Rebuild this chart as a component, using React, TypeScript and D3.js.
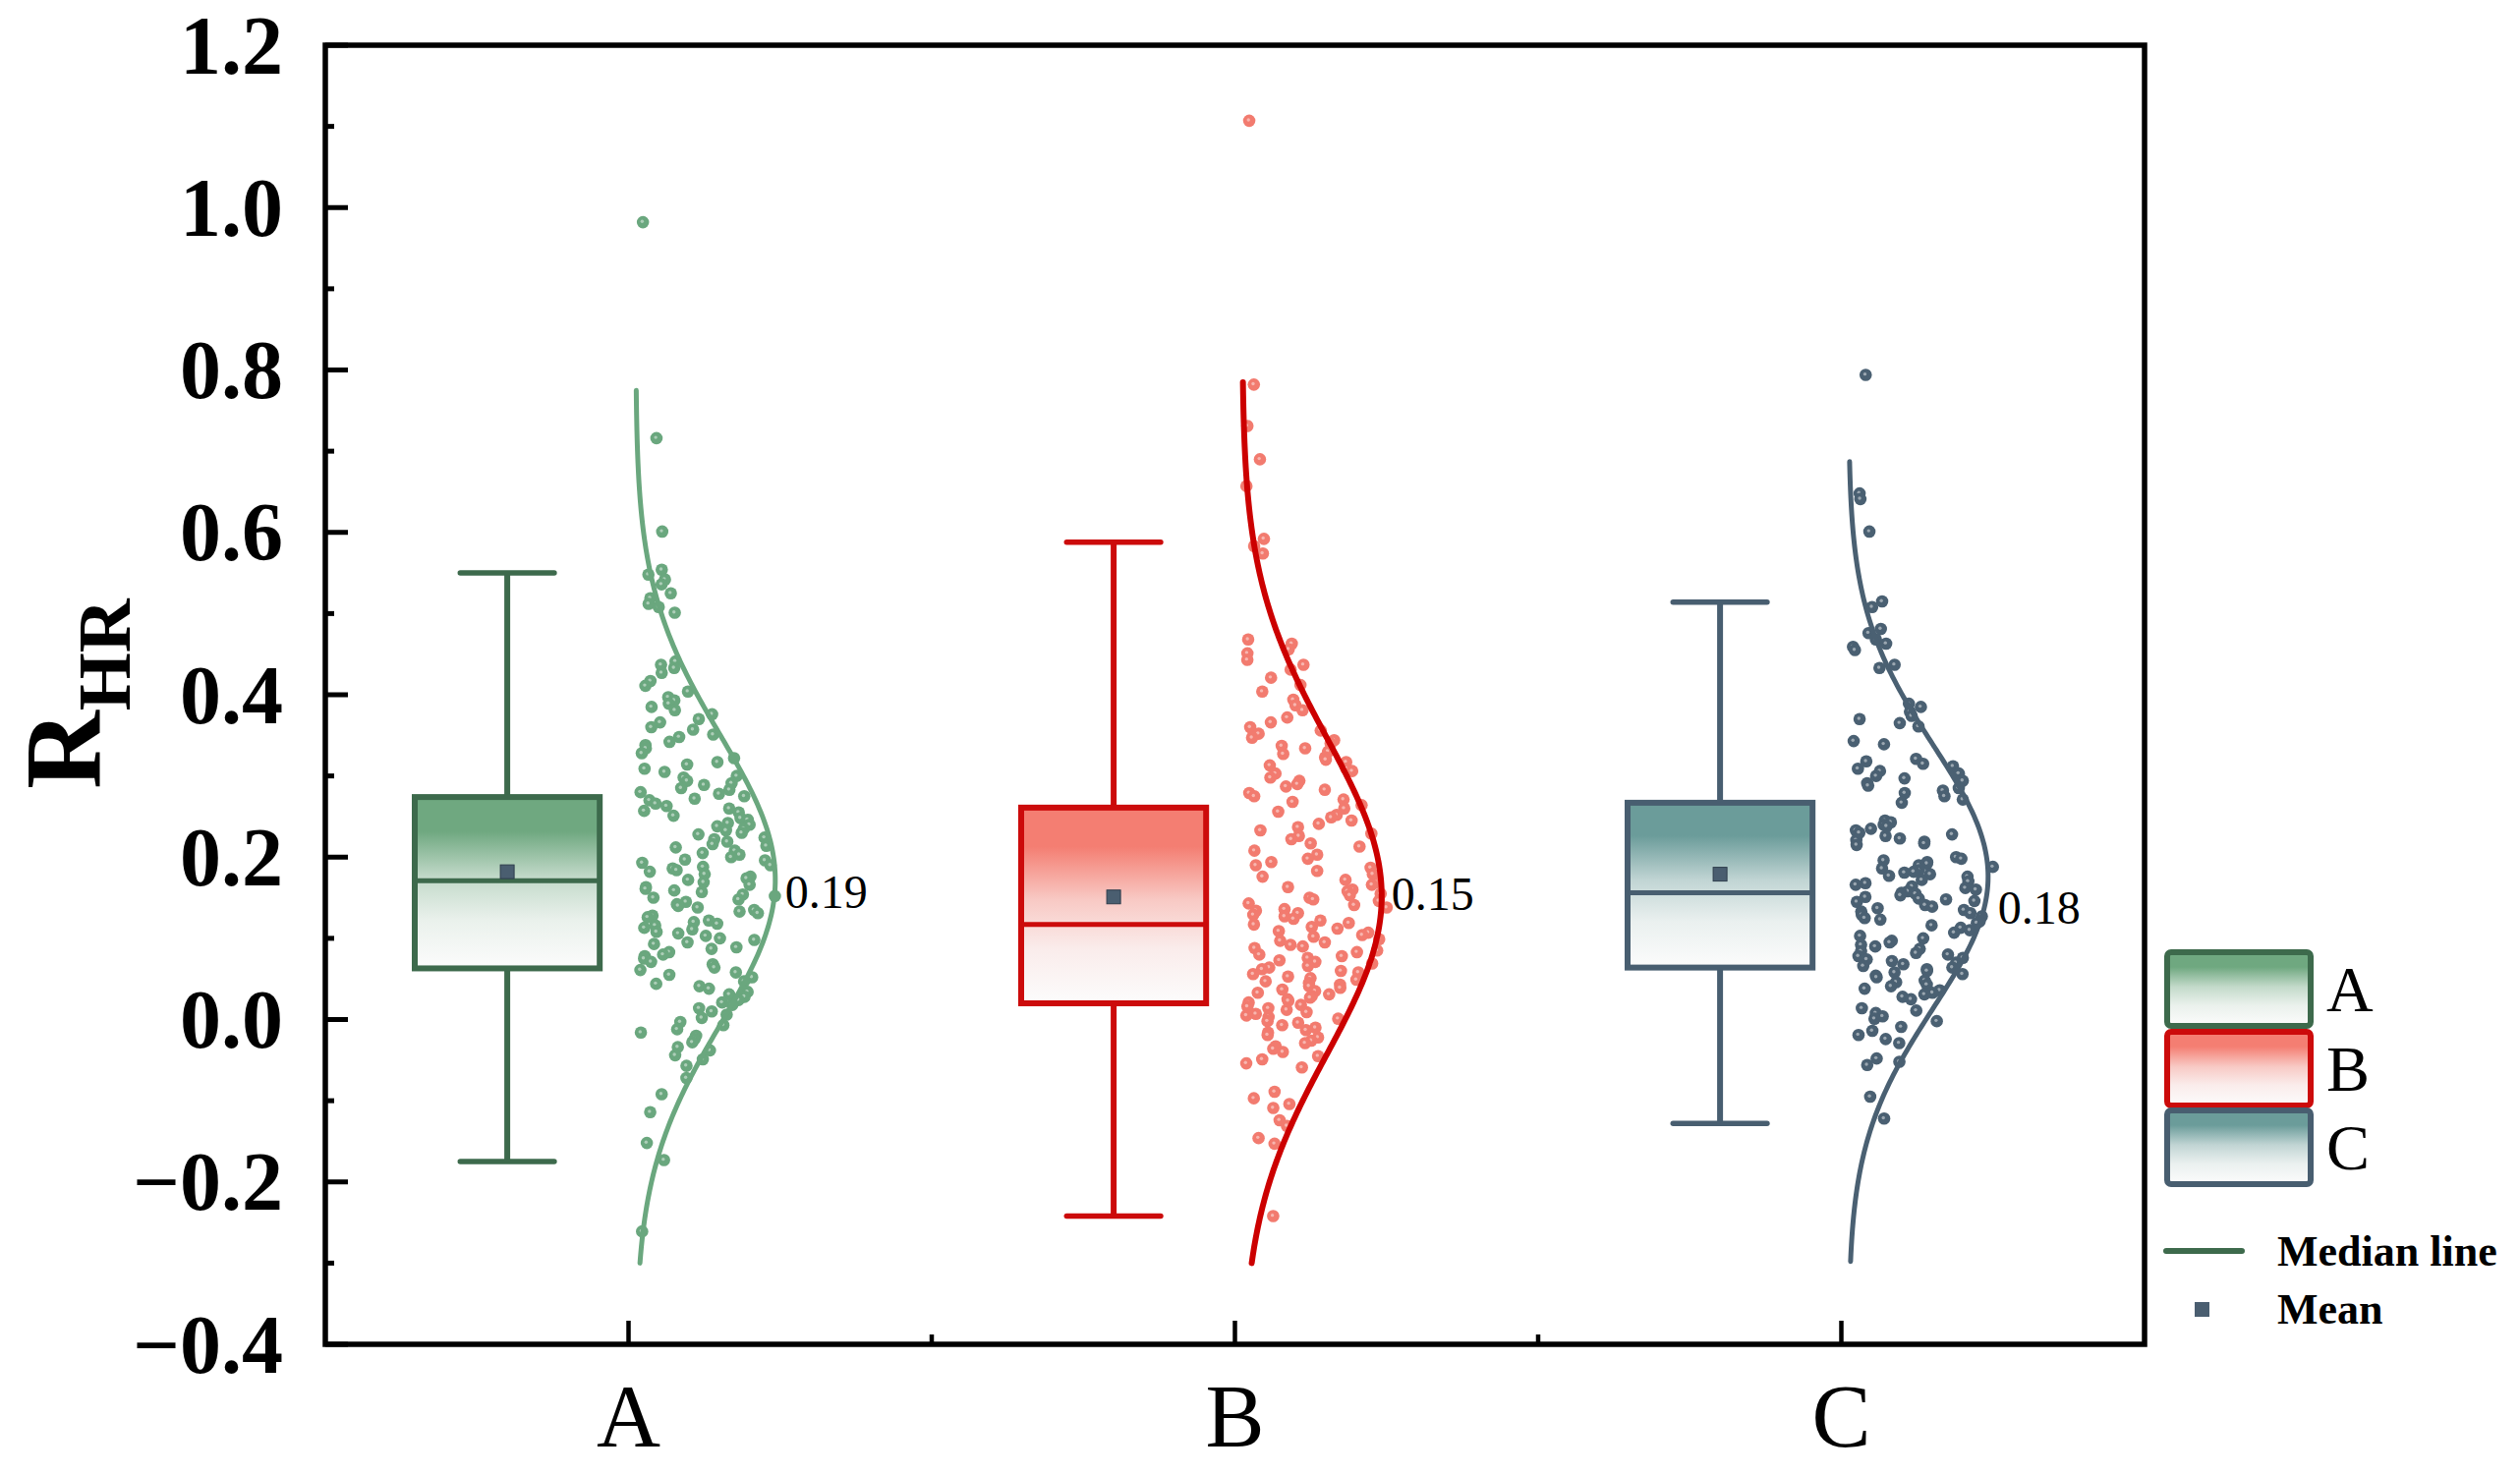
import React from "react";
import * as d3 from "d3";

// ---- data ----
const categories = ["A", "B", "C"];

const boxQ1 = [0.063, 0.02, 0.064];
const boxMedian = [0.171, 0.117, 0.156];
const boxQ3 = [0.274, 0.261, 0.267];
const whiskerLow = [-0.175, -0.242, -0.128];
const whiskerHigh = [0.55, 0.588, 0.514];
const means = [0.182, 0.151, 0.179];

// normal curve drawn beside each box
const curveMu = [0.172, 0.152, 0.176];
const curveSigma = [0.178, 0.195, 0.162];
const curveFrom = [-0.3, -0.3, -0.3];
const curveTo = [0.775, 0.785, 0.687];
const curveLabels = ["0.19", "0.15", "0.18"];
const curveLabelAt = [0.157, 0.154, 0.137];

const yTicks = [-0.4, -0.2, 0.0, 0.2, 0.4, 0.6, 0.8, 1.0, 1.2];
const yMinorTicks = [-0.3, -0.1, 0.1, 0.3, 0.5, 0.7, 0.9, 1.1];

const pointsA = [
  0.982, 0.716, 0.601, 0.554, 0.548, 0.542, 0.536, 0.525, 0.519, 0.512, 0.508, 0.501,
  0.441, 0.437, 0.433, 0.427, 0.417, 0.411, 0.404, 0.397, 0.393, 0.389, 0.385, 0.381,
  0.376, 0.37, 0.366, 0.36, 0.357, 0.351, 0.348, 0.342, 0.338, 0.334, 0.328, 0.322,
  0.317, 0.314, 0.309, 0.305, 0.3, 0.298, 0.294, 0.291, 0.289, 0.285, 0.283, 0.28,
  0.278, 0.275, 0.272, 0.27, 0.266, 0.263, 0.26, 0.257, 0.255, 0.251, 0.248, 0.246,
  0.242, 0.24, 0.238, 0.235, 0.233, 0.23, 0.228, 0.224, 0.222, 0.219, 0.216, 0.214,
  0.212, 0.208, 0.205, 0.203, 0.2, 0.197, 0.196, 0.193, 0.19, 0.188, 0.186, 0.184,
  0.182, 0.179, 0.176, 0.174, 0.172, 0.169, 0.166, 0.163, 0.161, 0.159, 0.157, 0.154,
  0.152, 0.15, 0.148, 0.145, 0.142, 0.14, 0.138, 0.135, 0.133, 0.131, 0.128, 0.126,
  0.122, 0.12, 0.118, 0.116, 0.113, 0.111, 0.108, 0.106, 0.103, 0.1, 0.098, 0.095,
  0.093, 0.089, 0.087, 0.083, 0.08, 0.078, 0.075, 0.071, 0.068, 0.064, 0.061, 0.058,
  0.055, 0.052, 0.047, 0.044, 0.041, 0.038, 0.034, 0.031, 0.028, 0.024, 0.021, 0.018,
  0.014, 0.01, 0.006, 0.002, -0.003, -0.007, -0.012, -0.016, -0.02, -0.024, -0.028,
  -0.034, -0.038, -0.044, -0.049, -0.057, -0.072, -0.092, -0.114, -0.152, -0.173, -0.261,
];

const pointsB = [
  1.107, 0.782, 0.731, 0.69, 0.657, 0.592, 0.583, 0.574, 0.468, 0.463, 0.456, 0.451,
  0.443, 0.437, 0.431, 0.421, 0.412, 0.404, 0.394, 0.387, 0.381, 0.372, 0.366, 0.36,
  0.356, 0.352, 0.347, 0.344, 0.34, 0.337, 0.334, 0.33, 0.327, 0.323, 0.32, 0.317,
  0.313, 0.309, 0.306, 0.303, 0.298, 0.294, 0.29, 0.287, 0.283, 0.279, 0.275, 0.271,
  0.268, 0.264, 0.26, 0.256, 0.252, 0.249, 0.245, 0.241, 0.237, 0.233, 0.229, 0.226,
  0.222, 0.217, 0.213, 0.208, 0.203, 0.198, 0.194, 0.19, 0.187, 0.183, 0.179, 0.176,
  0.172, 0.169, 0.166, 0.163, 0.16, 0.158, 0.155, 0.153, 0.15, 0.148, 0.146, 0.143,
  0.141, 0.138, 0.136, 0.134, 0.131, 0.129, 0.127, 0.124, 0.122, 0.119, 0.117, 0.114,
  0.112, 0.109, 0.107, 0.104, 0.102, 0.099, 0.097, 0.095, 0.092, 0.09, 0.088, 0.085,
  0.083, 0.08, 0.078, 0.076, 0.073, 0.071, 0.069, 0.066, 0.064, 0.062, 0.06, 0.058,
  0.056, 0.053, 0.051, 0.049, 0.047, 0.045, 0.043, 0.041, 0.039, 0.037, 0.035, 0.033,
  0.031, 0.029, 0.027, 0.025, 0.023, 0.021, 0.018, 0.016, 0.014, 0.012, 0.009, 0.007,
  0.005, 0.003, 0.001, -0.002, -0.004, -0.007, -0.01, -0.013, -0.016, -0.019, -0.022,
  -0.026, -0.029, -0.033, -0.036, -0.04, -0.045, -0.049, -0.054, -0.059, -0.089,
  -0.097, -0.104, -0.109, -0.124, -0.131, -0.146, -0.153, -0.242,
];

const pointsC = [
  0.794, 0.648, 0.641, 0.601, 0.515, 0.508, 0.481, 0.476, 0.468, 0.463, 0.459, 0.455,
  0.437, 0.433, 0.389, 0.385, 0.379, 0.374, 0.37, 0.365, 0.361, 0.343, 0.339, 0.321,
  0.318, 0.315, 0.312, 0.309, 0.306, 0.303, 0.3, 0.297, 0.294, 0.291, 0.288, 0.285,
  0.282, 0.279, 0.275, 0.271, 0.267, 0.245, 0.243, 0.24, 0.238, 0.235, 0.233, 0.23,
  0.228, 0.226, 0.223, 0.221, 0.219, 0.217, 0.215, 0.2, 0.198, 0.196, 0.194, 0.192,
  0.19, 0.188, 0.186, 0.184, 0.182, 0.181, 0.179, 0.177, 0.176, 0.172, 0.17, 0.168,
  0.166, 0.164, 0.162, 0.16, 0.158, 0.156, 0.155, 0.153, 0.151, 0.149, 0.148, 0.146,
  0.145, 0.141, 0.139, 0.137, 0.135, 0.133, 0.131, 0.129, 0.127, 0.125, 0.123, 0.121,
  0.119, 0.116, 0.113, 0.11, 0.107, 0.103, 0.1, 0.097, 0.095, 0.092, 0.09, 0.087,
  0.084, 0.082, 0.08, 0.078, 0.076, 0.074, 0.072, 0.07, 0.068, 0.066, 0.064, 0.062,
  0.06, 0.058, 0.056, 0.054, 0.052, 0.048, 0.046, 0.043, 0.041, 0.038, 0.036, 0.033,
  0.031, 0.028, 0.025, 0.014, 0.011, 0.008, 0.004, 0.001, -0.002, -0.009, -0.014,
  -0.019, -0.024, -0.029, -0.048, -0.052, -0.056, -0.095, -0.122,
];
const groupPoints = [pointsA, pointsB, pointsC];

// ---- styling ----
const boxStroke = ["#3d6a4c", "#cc0b0b", "#485e70"];
const boxTop = ["#6fa880", "#f47e72", "#6b9c9a"];
const dotColor = ["#6aa77e", "#f27b6f", "#4a6072"];
const curveColor = ["#6aa77e", "#cc0000", "#4a6072"];
const meanColor = "#4a5e70";
const serif = "'Liberation Serif', 'Times New Roman', Times, serif";

const W = 2564;
const H = 1501;
const left = 331;
const right = 2182;
const top = 46;
const bottom = 1368;

export default function App() {
  const x = d3.scaleLinear().domain([0.5, 3.5]).range([left, right]);
  const y = d3.scaleLinear().domain([-0.4, 1.2]).range([bottom, top]);
  const band = x(2) - x(1);

  const boxW = band * 0.305;
  const capW = band * 0.155;
  const peakW = band * 0.23;

  const gradId = (i: number) => `boxGrad${i}`;

  const curveOffset = (i: number, v: number) =>
    peakW * Math.exp(-((v - curveMu[i]) ** 2) / (2 * curveSigma[i] ** 2));

  const line = d3
    .line<[number, number]>()
    .x((d) => d[0])
    .y((d) => d[1])
    .curve(d3.curveMonotoneY);

  // horizontal jitter only (fixed seed so the layout is stable)
  const jitter = d3.randomUniform.source(d3.randomLcg(0.3127))(0, 1);

  return (
    <svg
      width={W}
      height={H}
      style={{ position: "absolute", left: 0, top: 0, background: "#fff" }}
    >
      <defs>
        {categories.map((c, i) => {
          const mix = d3.interpolateRgb(boxTop[i], "#fbfbfb");
          return (
            <linearGradient key={c} id={gradId(i)} x1="0" y1="0" x2="0" y2="1">
              <stop offset="0" stopColor={boxTop[i]} />
              <stop offset="0.2" stopColor={boxTop[i]} />
              <stop offset="0.47" stopColor={mix(0.6)} />
              <stop offset="0.72" stopColor={mix(0.88)} />
              <stop offset="1" stopColor="#fcfcfc" />
            </linearGradient>
          );
        })}
      </defs>

      {/* boxes */}
      {categories.map((c, i) => {
        const cx = x(i + 1) - band * 0.2;
        return (
          <g key={"box" + c}>
            <line x1={cx} x2={cx} y1={y(whiskerHigh[i])} y2={y(boxQ3[i])} stroke={boxStroke[i]} strokeWidth={6} />
            <line x1={cx} x2={cx} y1={y(boxQ1[i])} y2={y(whiskerLow[i])} stroke={boxStroke[i]} strokeWidth={6} />
            <line x1={cx - capW / 2} x2={cx + capW / 2} y1={y(whiskerHigh[i])} y2={y(whiskerHigh[i])} stroke={boxStroke[i]} strokeWidth={5.5} strokeLinecap="round" />
            <line x1={cx - capW / 2} x2={cx + capW / 2} y1={y(whiskerLow[i])} y2={y(whiskerLow[i])} stroke={boxStroke[i]} strokeWidth={5.5} strokeLinecap="round" />
            <rect
              x={cx - boxW / 2}
              y={y(boxQ3[i])}
              width={boxW}
              height={y(boxQ1[i]) - y(boxQ3[i])}
              fill={`url(#${gradId(i)})`}
              stroke={boxStroke[i]}
              strokeWidth={6}
            />
            <line x1={cx - boxW / 2} x2={cx + boxW / 2} y1={y(boxMedian[i])} y2={y(boxMedian[i])} stroke={boxStroke[i]} strokeWidth={5} />
            <rect x={cx - 7} y={y(means[i]) - 7} width={14} height={14} fill={meanColor} stroke="#2e3d4c" strokeWidth={1} />
          </g>
        );
      })}

      {/* scatter points */}
      {categories.map((c, i) => {
        const base = x(i + 1) + band * 0.012;
        return (
          <g key={"pts" + c}>
            {groupPoints[i].map((v, k) => {
              const frac = jitter();
              const px = base + 4 + frac * (16 + 0.9 * curveOffset(i, v));
              const py = y(v);
              return (
                <g key={k}>
                  <circle cx={px} cy={py} r={6.3} fill={dotColor[i]} />
                  <circle cx={px - 0.8} cy={py - 0.8} r={1.7} fill="#fff" opacity={0.45} />
                </g>
              );
            })}
          </g>
        );
      })}

      {/* distribution curves */}
      {categories.map((c, i) => {
        const base = x(i + 1) + band * 0.012;
        const vals = d3.range(curveTo[i], curveFrom[i] - 0.0001, -0.005);
        const pts: [number, number][] = vals.map((v) => [base + curveOffset(i, v), y(v)]);
        return (
          <g key={"curve" + c}>
            <path d={line(pts) || ""} fill="none" stroke={curveColor[i]} strokeWidth={i === 1 ? 6 : 5} strokeLinecap="round" />
            <text
              x={base + peakW + 10}
              y={y(curveLabelAt[i]) + 16}
              fontFamily={serif}
              fontSize={48}
              fill="#000"
            >
              {curveLabels[i]}
            </text>
          </g>
        );
      })}

      {/* frame */}
      <rect x={left} y={top} width={right - left} height={bottom - top} fill="none" stroke="#000" strokeWidth={5.5} />

      {/* y axis ticks */}
      {yTicks.map((t) => (
        <g key={"yt" + t}>
          <line x1={left} x2={left + 23} y1={y(t)} y2={y(t)} stroke="#000" strokeWidth={5} />
          <text
            x={288}
            y={y(t) + 28.5}
            textAnchor="end"
            fontFamily={serif}
            fontWeight="bold"
            fontSize={84}
          >
            {t < 0 ? "\u2212" + Math.abs(t).toFixed(1) : t.toFixed(1)}
          </text>
        </g>
      ))}
      {yMinorTicks.map((t) => (
        <line key={"ym" + t} x1={left} x2={left + 9} y1={y(t)} y2={y(t)} stroke="#000" strokeWidth={5} />
      ))}

      {/* x axis ticks */}
      {categories.map((c, i) => (
        <g key={"xt" + c}>
          <line x1={x(i + 1)} x2={x(i + 1)} y1={bottom} y2={bottom - 24} stroke="#000" strokeWidth={4.5} />
          <text x={x(i + 1)} y={1472} textAnchor="middle" fontFamily={serif} fontSize={90}>
            {c}
          </text>
        </g>
      ))}
      {[1.5, 2.5].map((t) => (
        <line key={"xm" + t} x1={x(t)} x2={x(t)} y1={bottom} y2={bottom - 10} stroke="#000" strokeWidth={4.5} />
      ))}

      {/* y title */}
      <text
        transform="translate(102,706) rotate(-90)"
        textAnchor="middle"
        fontFamily={serif}
        fontWeight="bold"
        fontSize={110}
      >
        R
        <tspan fontSize={76} dy={30}>
          HR
        </tspan>
      </text>

      {/* legend */}
      {categories.map((c, i) => {
        const ly = [969, 1050, 1130][i];
        return (
          <g key={"lg" + c}>
            <rect x={2205} y={ly} width={146} height={75} rx={4} fill={`url(#${gradId(i)})`} stroke={boxStroke[i]} strokeWidth={6} />
            <text x={2367} y={ly + 60} fontFamily={serif} fontSize={66}>
              {c}
            </text>
          </g>
        );
      })}
      <line x1={2204} x2={2281} y1={1273} y2={1273} stroke={boxStroke[0]} strokeWidth={6} strokeLinecap="round" />
      <text x={2317} y={1288} fontFamily={serif} fontWeight="bold" fontSize={44}>
        Median line
      </text>
      <rect x={2233} y={1325} width={15} height={15} fill={meanColor} />
      <text x={2317} y={1347} fontFamily={serif} fontWeight="bold" fontSize={44}>
        Mean
      </text>
    </svg>
  );
}
